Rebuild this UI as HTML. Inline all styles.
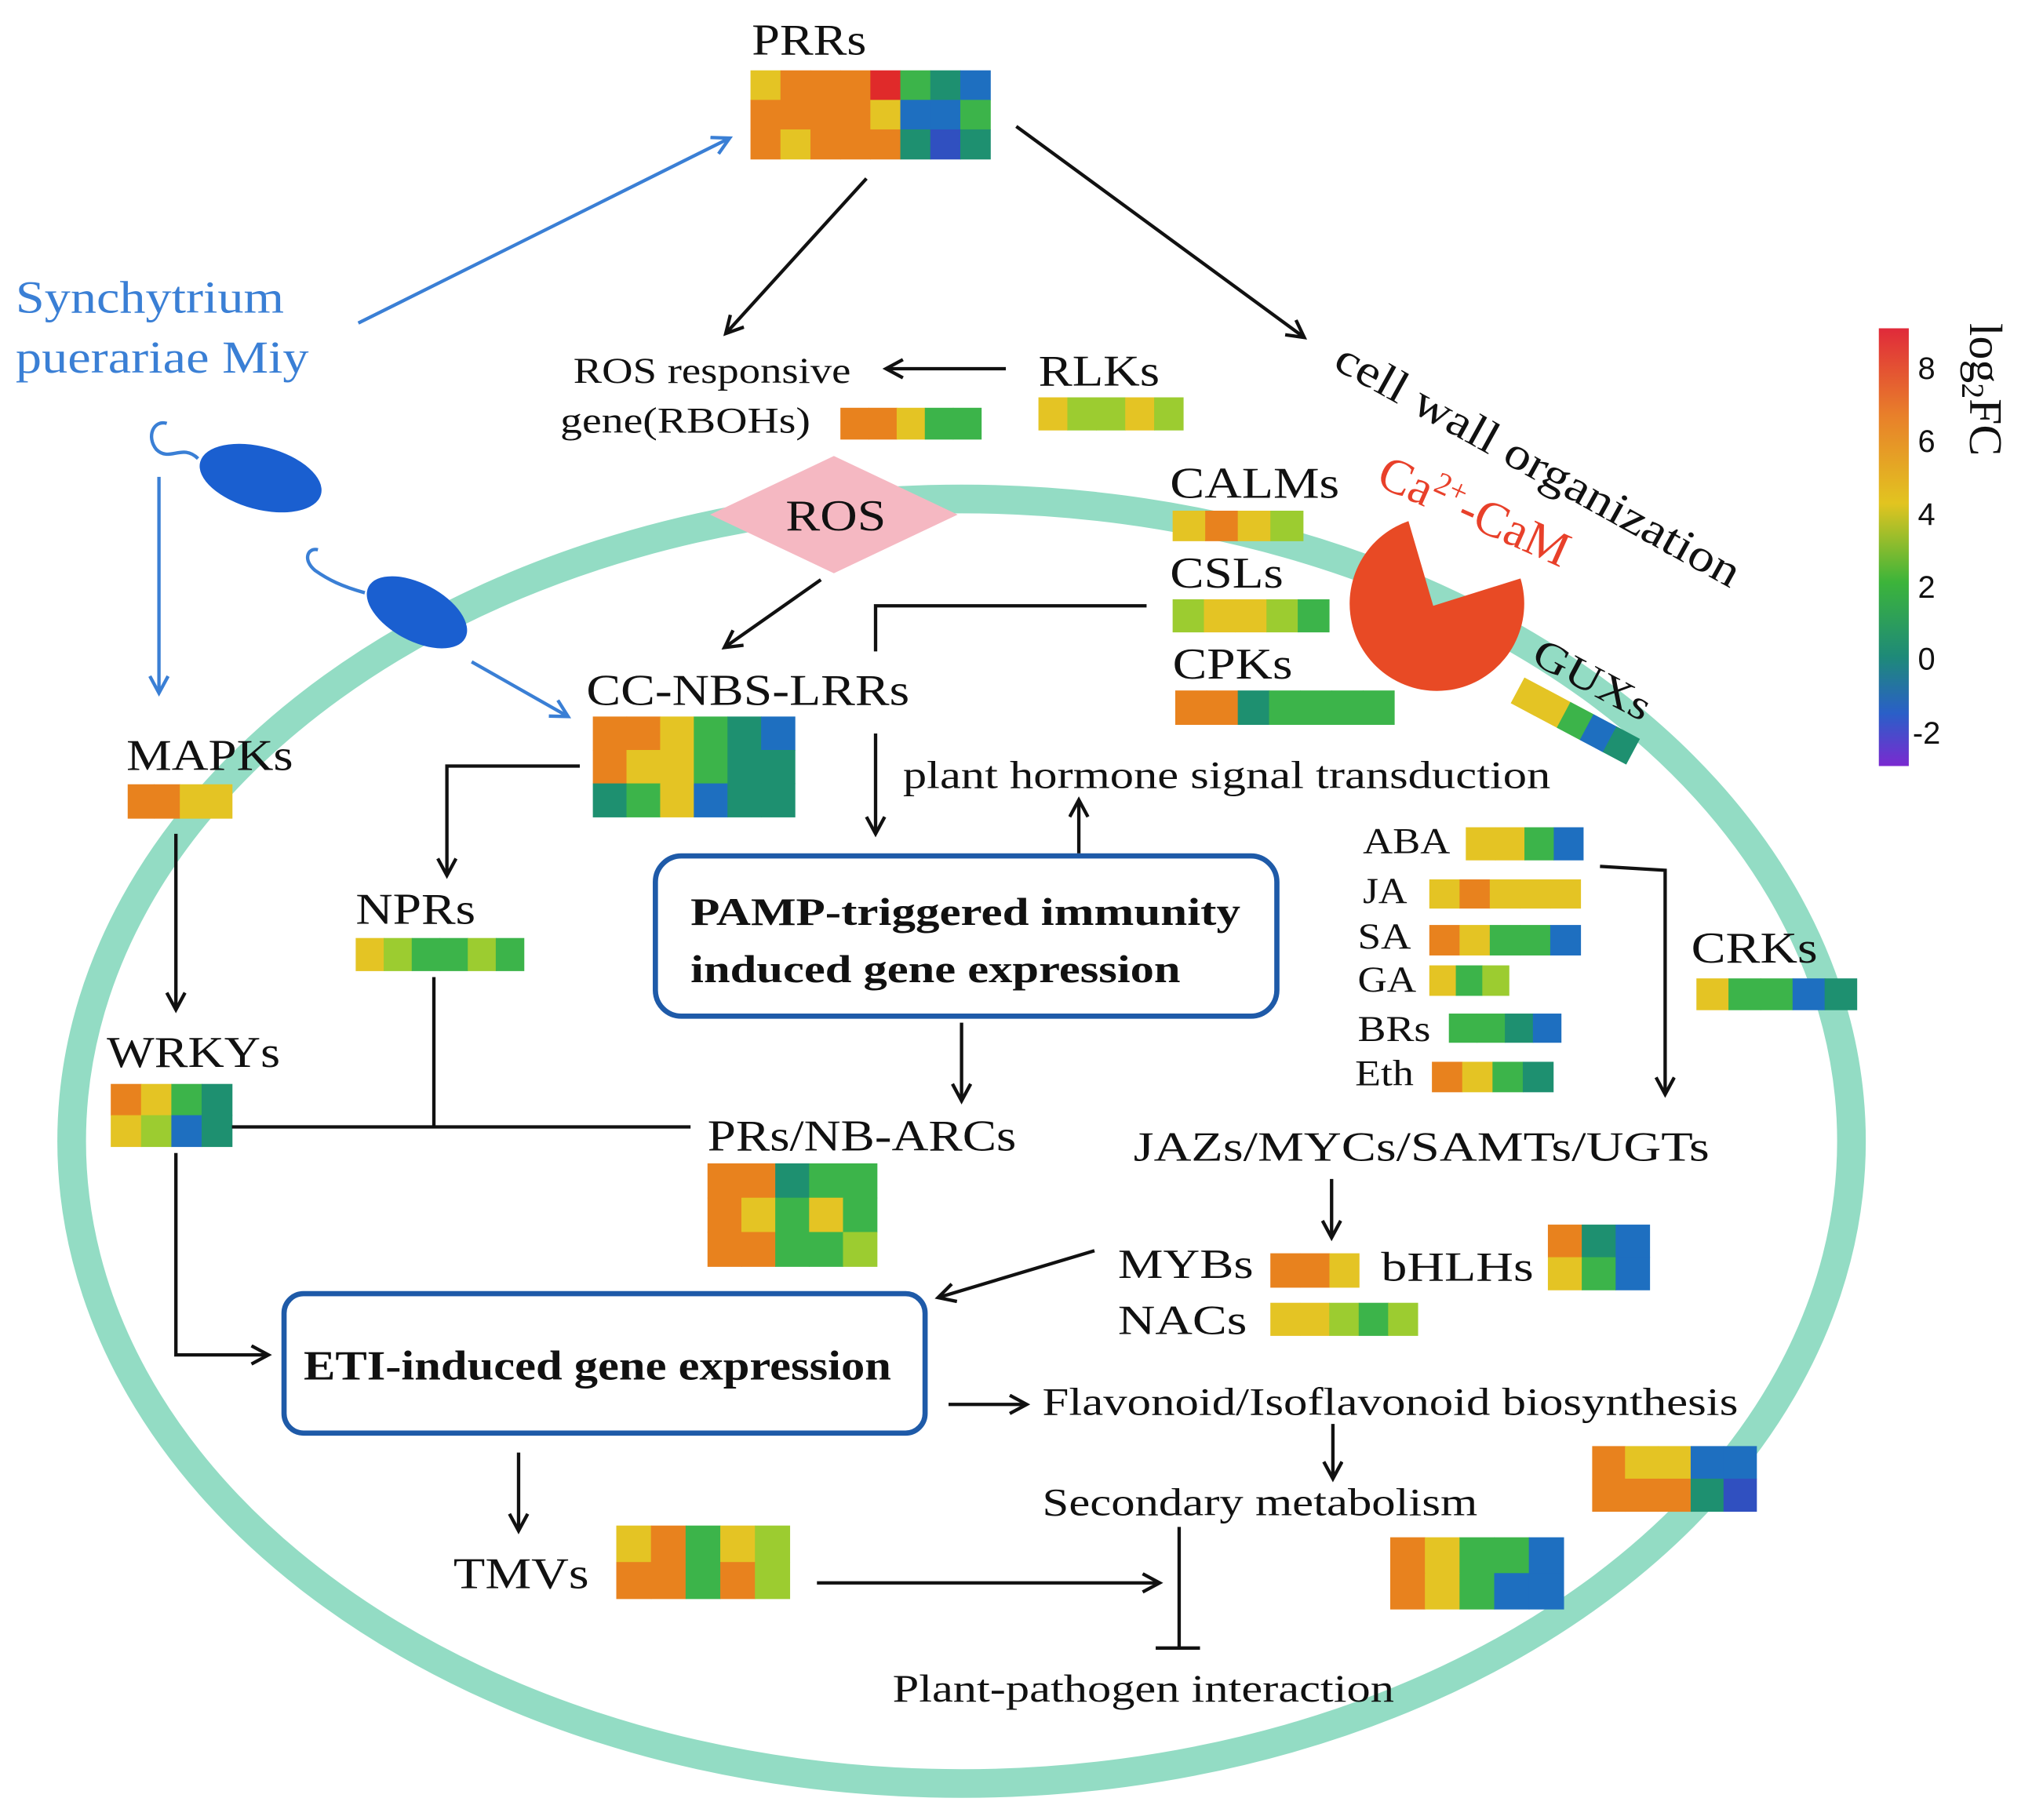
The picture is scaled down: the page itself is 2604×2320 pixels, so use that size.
<!DOCTYPE html>
<html><head><meta charset="utf-8"><style>
html,body{margin:0;padding:0;background:#fff}
svg{display:block}
text{font-family:"Liberation Serif","DejaVu Serif",serif;fill:#111}
</style></head><body>
<svg width="2604" height="2320" viewBox="0 0 1568 1397" xmlns="http://www.w3.org/2000/svg" font-family="Liberation Serif, DejaVu Serif, serif">
<defs>
<marker id="a" markerWidth="22" markerHeight="22" refX="14" refY="8" orient="auto" markerUnits="userSpaceOnUse"><path d="M1,1 L14,8 L1,15" fill="none" stroke="#111" stroke-width="2.6"/></marker>
<marker id="ab" markerWidth="22" markerHeight="22" refX="14" refY="8" orient="auto" markerUnits="userSpaceOnUse"><path d="M1,1 L14,8 L1,15" fill="none" stroke="#3a7fd5" stroke-width="2.6"/></marker>
<linearGradient id="cb" x1="0" y1="0" x2="0" y2="1">
<stop offset="0" stop-color="#e02a3a"/><stop offset="0.2" stop-color="#e8802a"/><stop offset="0.4" stop-color="#e2c420"/><stop offset="0.58" stop-color="#3cb43a"/><stop offset="0.75" stop-color="#1e8a78"/><stop offset="0.88" stop-color="#2a5fc8"/><stop offset="1" stop-color="#7a2ad0"/>
</linearGradient>
</defs>
<ellipse cx="738" cy="876" rx="683" ry="493" fill="none" stroke="#93dcc4" stroke-width="22"/>

<g id="hm"></g>

<g lengthAdjust="spacingAndGlyphs">
<text x="577" y="42" font-size="34" textLength="88" lengthAdjust="spacingAndGlyphs">PRRs</text>
<text x="12" y="240" font-size="35" style="fill:#3a7fd5" textLength="206" lengthAdjust="spacingAndGlyphs">Synchytrium</text>
<text x="12" y="286" font-size="35" style="fill:#3a7fd5" textLength="225" lengthAdjust="spacingAndGlyphs">puerariae Miy</text>
<text x="440" y="294" font-size="28" textLength="213" lengthAdjust="spacingAndGlyphs">ROS responsive</text>
<text x="430" y="332" font-size="28" textLength="192" lengthAdjust="spacingAndGlyphs">gene(RBOHs)</text>
<text x="797" y="296" font-size="34" textLength="93" lengthAdjust="spacingAndGlyphs">RLKs</text>
<path d="M545,395 L640,350 L735,395 L640,440 Z" fill="#f5b8c2"/>
<text x="603" y="407" font-size="34" textLength="77" lengthAdjust="spacingAndGlyphs">ROS</text>
<text transform="translate(1022,282) rotate(29)" font-size="35" textLength="350" lengthAdjust="spacingAndGlyphs">cell wall organization</text>
<text transform="translate(1055,372) rotate(24)" font-size="38" style="fill:#e8402a">Ca<tspan font-size="24" dy="-14">2+</tspan><tspan dy="14">-CaM</tspan></text>
<path d="M1100,465 L1081,400 A67,67 0 1 0 1167,444 Z" fill="#e84a25"/>
<text x="898" y="382" font-size="34" textLength="130" lengthAdjust="spacingAndGlyphs">CALMs</text>
<text x="898" y="451" font-size="34" textLength="87" lengthAdjust="spacingAndGlyphs">CSLs</text>
<text x="900" y="521" font-size="34" textLength="92" lengthAdjust="spacingAndGlyphs">CPKs</text>
<text transform="translate(1174,508) rotate(28)" font-size="32" textLength="98" lengthAdjust="spacingAndGlyphs">GUXs</text>
<text x="450" y="541" font-size="34" textLength="248" lengthAdjust="spacingAndGlyphs">CC-NBS-LRRs</text>
<text x="693" y="605" font-size="30" textLength="497" lengthAdjust="spacingAndGlyphs">plant hormone signal transduction</text>
<rect x="503" y="657" width="477" height="123" rx="20" fill="none" stroke="#1e5aa8" stroke-width="4"/>
<text x="530" y="710" font-size="30" font-weight="bold" textLength="422" lengthAdjust="spacingAndGlyphs">PAMP-triggered immunity</text>
<text x="530" y="754" font-size="30" font-weight="bold" textLength="376" lengthAdjust="spacingAndGlyphs">induced gene expression</text>
<text x="97" y="591" font-size="34" textLength="128" lengthAdjust="spacingAndGlyphs">MAPKs</text>
<text x="82" y="819" font-size="34" textLength="133" lengthAdjust="spacingAndGlyphs">WRKYs</text>
<text x="273" y="709" font-size="34" textLength="92" lengthAdjust="spacingAndGlyphs">NPRs</text>
<text x="543" y="883" font-size="34" textLength="237" lengthAdjust="spacingAndGlyphs">PRs/NB-ARCs</text>
<rect x="218" y="993" width="492" height="107" rx="15" fill="none" stroke="#1e5aa8" stroke-width="4"/>
<text x="233" y="1059" font-size="32" font-weight="bold" textLength="451" lengthAdjust="spacingAndGlyphs">ETI-induced gene expression</text>
<text x="348" y="1219" font-size="34" textLength="104" lengthAdjust="spacingAndGlyphs">TMVs</text>
<text x="800" y="1086" font-size="30" textLength="534" lengthAdjust="spacingAndGlyphs">Flavonoid/Isoflavonoid biosynthesis</text>
<text x="800" y="1163" font-size="30" textLength="334" lengthAdjust="spacingAndGlyphs">Secondary metabolism</text>
<text x="685" y="1306" font-size="30" textLength="385" lengthAdjust="spacingAndGlyphs">Plant-pathogen interaction</text>
<g font-size="28">
<text x="1046" y="655" textLength="67" lengthAdjust="spacingAndGlyphs">ABA</text>
<text x="1046" y="693" textLength="34" lengthAdjust="spacingAndGlyphs">JA</text>
<text x="1042" y="728" textLength="41" lengthAdjust="spacingAndGlyphs">SA</text>
<text x="1042" y="761" textLength="45" lengthAdjust="spacingAndGlyphs">GA</text>
<text x="1042" y="799" textLength="56" lengthAdjust="spacingAndGlyphs">BRs</text>
<text x="1040" y="833" textLength="45" lengthAdjust="spacingAndGlyphs">Eth</text>
</g>
<text x="1298" y="739" font-size="34" textLength="97" lengthAdjust="spacingAndGlyphs">CRKs</text>
<text x="870" y="891" font-size="32" textLength="442" lengthAdjust="spacingAndGlyphs">JAZs/MYCs/SAMTs/UGTs</text>
<text x="858" y="981" font-size="32" textLength="104" lengthAdjust="spacingAndGlyphs">MYBs</text>
<text x="1060" y="983" font-size="32" textLength="117" lengthAdjust="spacingAndGlyphs">bHLHs</text>
<text x="858" y="1024" font-size="32" textLength="99" lengthAdjust="spacingAndGlyphs">NACs</text>
</g>

<!-- colorbar -->
<rect x="1442" y="252" width="23" height="336" fill="url(#cb)"/>
<g font-size="24" style="font-family:'Liberation Sans',sans-serif">
<text x="1472" y="291" style="font-family:'Liberation Sans',sans-serif">8</text><text x="1472" y="347" style="font-family:'Liberation Sans',sans-serif">6</text><text x="1472" y="403" style="font-family:'Liberation Sans',sans-serif">4</text><text x="1472" y="459" style="font-family:'Liberation Sans',sans-serif">2</text><text x="1472" y="514" style="font-family:'Liberation Sans',sans-serif">0</text><text x="1468" y="571" style="font-family:'Liberation Sans',sans-serif">-2</text>
</g>
<text transform="translate(1512,248) rotate(90)" font-size="36">log<tspan font-size="24" dy="6">2</tspan><tspan dy="-6">FC</tspan></text>

<!-- blue organisms -->
<g fill="#1a5fd0" stroke="none">
<ellipse cx="200" cy="367" rx="48" ry="24" transform="rotate(15 200 367)"/>
<ellipse cx="320" cy="470" rx="42" ry="22" transform="rotate(28 320 470)"/>
</g>
<g fill="none" stroke="#3a7fd5" stroke-width="2.6">
<path d="M152,352 C140,340 130,355 120,345 C112,335 118,322 128,325"/>
<path d="M280,455 C262,450 252,445 242,438 C232,430 236,420 244,422"/>
<line x1="275" y1="248" x2="560" y2="106" marker-end="url(#ab)"/>
<line x1="122" y1="366" x2="122" y2="532" marker-end="url(#ab)"/>
<line x1="362" y1="508" x2="436" y2="550" marker-end="url(#ab)"/>
</g>

<!-- black connectors -->
<g fill="none" stroke="#111" stroke-width="2.6">
<line x1="665" y1="137" x2="557" y2="256" marker-end="url(#a)"/>
<line x1="780" y1="97" x2="1001" y2="259" marker-end="url(#a)"/>
<line x1="772" y1="283" x2="680" y2="283" marker-end="url(#a)"/>
<line x1="630" y1="445" x2="556" y2="497" marker-end="url(#a)"/>
<polyline points="880,465 672,465 672,500"/>
<line x1="672" y1="563" x2="672" y2="640" marker-end="url(#a)"/>
<line x1="828" y1="655" x2="828" y2="614" marker-end="url(#a)"/>
<line x1="738" y1="785" x2="738" y2="845" marker-end="url(#a)"/>
<polyline points="445,588 343,588 343,672" marker-end="url(#a)"/>
<line x1="135" y1="640" x2="135" y2="775" marker-end="url(#a)"/>
<line x1="333" y1="750" x2="333" y2="865"/>
<line x1="178" y1="865" x2="530" y2="865"/>
<polyline points="135,885 135,1040 206,1040" marker-end="url(#a)"/>
<line x1="398" y1="1115" x2="398" y2="1175" marker-end="url(#a)"/>
<line x1="627" y1="1215" x2="890" y2="1215" marker-end="url(#a)"/>
<line x1="728" y1="1078" x2="788" y2="1078" marker-end="url(#a)"/>
<line x1="1023" y1="1093" x2="1023" y2="1135" marker-end="url(#a)"/>
<line x1="905" y1="1172" x2="905" y2="1265"/>
<line x1="887" y1="1265" x2="921" y2="1265"/>
<polyline points="1228,665 1278,668 1278,840" marker-end="url(#a)"/>
<line x1="1022" y1="905" x2="1022" y2="950" marker-end="url(#a)"/>
<line x1="840" y1="960" x2="720" y2="996" marker-end="url(#a)"/>
</g>
</svg>
<script>
var C={O:"#e8821e",Y:"#e4c424",R:"#e02a2a",G:"#3cb44a",L:"#9ccc30",T:"#1e9070",B:"#1e6fc0",D:"#3050c0"};
function hm(x,y,w,h,rows,rot){
 var g=document.getElementById('hm'),ns="http://www.w3.org/2000/svg";
 var grp=document.createElementNS(ns,'g');
 if(rot)grp.setAttribute('transform','rotate('+rot+' '+x+' '+y+')');
 var nr=rows.length,nc=rows[0].length,cw=w/nc,ch=h/nr;
 for(var r=0;r<nr;r++)for(var c=0;c<nc;c++){var e=document.createElementNS(ns,'rect');
 e.setAttribute('x',x+c*cw);e.setAttribute('y',y+r*ch);e.setAttribute('width',cw+0.4);e.setAttribute('height',ch+0.4);e.setAttribute('fill',C[rows[r][c]]);grp.appendChild(e);}
 g.appendChild(grp);}
hm(576,54,184,68,["YOOORGTB","OOOOYBBG","OYOOOTDT"]);
hm(797,305,111,25,["YLLYL"]);
hm(645,313,108,24,["OOYGG"]);
hm(900,392,100,23,["YOYL"]);
hm(900,460,120,25,["LYYLG"]);
hm(902,530,168,26,["OOTGGGG"]);
hm(1170,520,100,22,["YYGBT"],28);
hm(455,550,155,77,["OOYGTB","OYYGTT","TGYBTT"]);
hm(98,602,80,26,["OOYY"]);
hm(85,832,93,48,["OYGT","YLBT"]);
hm(273,720,129,25,["YLGGLG"]);
hm(543,893,130,79,["OOTGG","OYGYG","OOGGL"]);
hm(473,1171,133,56,["YOGYL","OOGOL"]);
hm(1222,1110,126,50,["OYYBB","OOOTD"]);
hm(1067,1180,133,55,["OYGGB","OYGBB"]);
hm(1125,635,90,25,["YYGB"]);
hm(1097,675,116,22,["YOYYY"]);
hm(1097,710,116,23,["OYGGB"]);
hm(1097,741,61,23,["YGL"]);
hm(1112,778,86,22,["GGTB"]);
hm(1099,815,93,23,["OYGT"]);
hm(1302,751,123,24,["YGGBT"]);
hm(975,962,68,26,["OOY"]);
hm(1188,940,78,50,["OTB","YGB"]);
hm(975,1000,113,25,["YYLGL"]);
</script>
</body></html>
